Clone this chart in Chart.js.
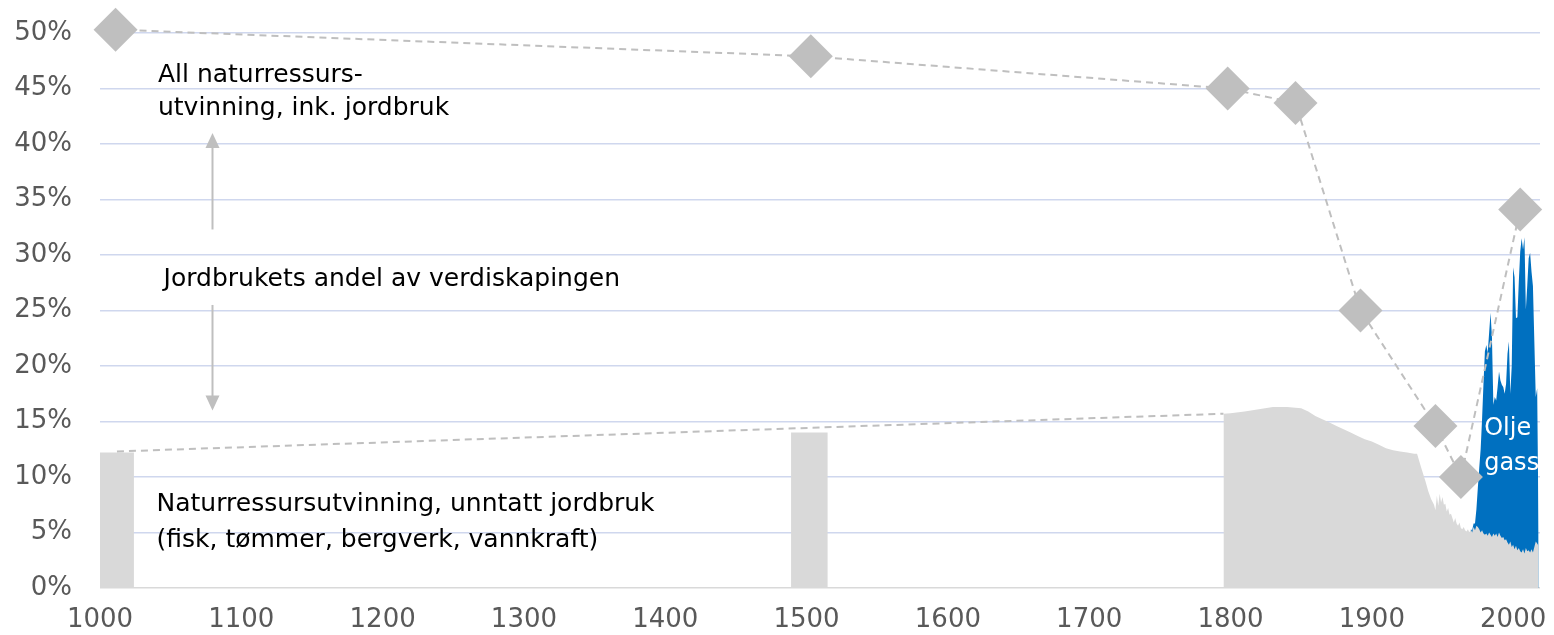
<!DOCTYPE html>
<html>
<head>
<meta charset="utf-8">
<script src="https://cdn.jsdelivr.net/npm/chart.js@4/dist/chart.umd.min.js"></script>
<style>
  html, body { margin: 0; padding: 0; background: #fff; overflow: hidden; }
  #wrap { width: 1554px; height: 635px; }
</style>
</head>
<body>
<div id="wrap"><canvas id="myChart"></canvas></div>
<script>
// grey area: resource extraction excluding agriculture (null = gap)
const grey_years = [1000, 1024, 1100, 1489, 1515, 1600,
  1795, 1800, 1810, 1820, 1830, 1840, 1850, 1855, 1860, 1865, 1870, 1875, 1880, 1885, 1890, 1895,
  1900, 1905, 1910, 1915, 1920, 1925, 1930, 1932, 1935, 1938, 1940, 1942, 1944,
  1945, 1946, 1947, 1948, 1949, 1950, 1951, 1952, 1953, 1954, 1955, 1956, 1957, 1958, 1959,
  1960, 1961, 1962, 1963, 1964, 1965, 1966, 1967, 1968, 1969,
  1970, 1971, 1972, 1973, 1974, 1975, 1976, 1977, 1978, 1979,
  1980, 1981, 1982, 1983, 1984, 1985, 1986, 1987, 1988, 1989,
  1990, 1991, 1992, 1993, 1994, 1995, 1996, 1997, 1998, 1999,
  2000, 2001, 2002, 2003, 2004, 2005, 2006, 2007, 2008, 2009,
  2010, 2011, 2012, 2013, 2014, 2015, 2016, 2017, 2018];
const grey_values = [12.2, 12.2, null, 14.0, 14.0, null,
  15.7, 15.75, 15.9, 16.1, 16.3, 16.3, 16.2, 15.9, 15.5, 15.2, 14.9, 14.6, 14.3, 14.0, 13.7, 13.4,
  13.2, 12.9, 12.6, 12.4, 12.3, 12.2, 12.1, 12.1, 10.8, 9.6, 8.7, 8.0, 7.5,
  7.0, 8.3, 7.4, 8.5, 7.7, 8.2, 7.5, 7.6, 6.9, 7.2, 6.6, 6.7, 6.3, 5.9, 6.3,
  5.8, 5.6, 5.9, 5.4, 5.3, 5.5, 5.2, 5.1, 5.3, 5.0,
  5.3, 5.0, 5.5, 5.2, 5.6, 5.5, 5.3, 5.0, 5.2, 4.9,
  4.8, 4.9, 4.7, 5.0, 4.8, 4.6, 4.9, 4.7, 4.9, 4.6,
  5.0, 4.7, 4.5, 4.6, 4.3, 4.4, 4.1, 3.9, 4.2, 3.7,
  3.9, 3.5, 3.8, 3.4, 3.6, 3.3, 3.2, 3.5, 3.1, 3.6,
  3.3, 3.4, 3.2, 3.5, 3.2, 3.7, 4.2, 4.0, 3.8];

// blue area: oil and gas share (on top of the grey area)
const oil_years = [1970, 1971, 1972, 1973, 1974, 1975, 1976, 1977, 1978, 1979,
  1980, 1981, 1982, 1983, 1984, 1985, 1986, 1987, 1988, 1989,
  1990, 1991, 1992, 1993, 1994, 1995, 1996, 1997, 1998, 1999,
  2000, 2001, 2002, 2003, 2004, 2005, 2006, 2007, 2008, 2009,
  2010, 2011, 2012, 2013, 2014, 2015, 2016, 2017, 2018];
const oil_values = [0, 0.2, 0.3, 0.6, 1.5, 3.5, 5.5, 7.5, 10.0, 13.5,
  16.5, 17.0, 16.5, 18.0, 20.0, 18.0, 11.6, 12.5, 12.0, 13.5,
  14.5, 14.0, 13.8, 13.5, 13.2, 14.0, 17.0, 18.3, 13.3, 16.3,
  25.0, 24.5, 20.5, 21.0, 24.0, 27.0, 28.3, 27.0, 28.5, 21.5,
  24.0, 26.3, 27.0, 25.0, 24.0, 18.5, 13.0, 14.0, 1.0];

// diamonds: all resource extraction incl. agriculture
const total_years = [1011, 1503, 1798, 1846, 1892, 1945, 1963, 2005];
const total_values = [50.3, 47.9, 45.0, 43.7, 25.0, 14.6, 10.0, 34.1];

// dashed bridge over the gap in the grey data
const bridge_years = [1012, 1795];
const bridge_values = [12.3, 15.7];

const x_ticks = [1000, 1100, 1200, 1300, 1400, 1500, 1600, 1700, 1800, 1900, 2000];
const y_ticks = [0, 5, 10, 15, 20, 25, 30, 35, 40, 45, 50];

const FONT = "'DejaVu Sans', sans-serif";

const greyLookup = {};
grey_years.forEach((yr, i) => { greyLookup[yr] = grey_values[i]; });

const greyData = grey_years.map((yr, i) => ({ x: yr, y: grey_values[i] }));
const oilData = oil_years.map((yr, i) => ({ x: yr, y: greyLookup[yr] + oil_values[i] }));
const totalData = total_years.map((yr, i) => ({ x: yr, y: total_values[i] }));
const bridgeData = bridge_years.map((yr, i) => ({ x: yr, y: bridge_values[i] }));

// text labels (baseline) and arrows, placed in data coordinates
const notes = [
  { text: 'All naturressurs-', x: 1041, y: 45.6 },
  { text: 'utvinning, ink. jordbruk', x: 1041, y: 42.6 },
  { text: 'Jordbrukets andel av verdiskapingen', x: 1045, y: 27.2 },
  { text: 'Naturressursutvinning, unntatt jordbruk', x: 1040, y: 6.95 },
  { text: '(fisk, tømmer, bergverk, vannkraft)', x: 1040, y: 3.65 },
  { text: 'Olje', x: 1979.5, y: 13.8, color: '#ffffff', size: 24 },
  { text: 'gass', x: 1979.5, y: 10.6, color: '#ffffff', size: 24 }
];
const arrows = [
  { x: 1079, from: 32.3, to: 41.0 },
  { x: 1079, from: 25.5, to: 16.0 }
];

const notesPlugin = {
  id: 'notes',
  afterDatasetsDraw(chart) {
    const ctx = chart.ctx;
    const xs = chart.scales.x, ys = chart.scales.y;
    ctx.save();
    arrows.forEach(a => {
      const px = Math.round(xs.getPixelForValue(a.x)) + 0.5;
      const p0 = ys.getPixelForValue(a.from);
      const p1 = ys.getPixelForValue(a.to);
      const dir = p1 < p0 ? -1 : 1;
      ctx.strokeStyle = '#bfbfbf';
      ctx.fillStyle = '#bfbfbf';
      ctx.lineWidth = 2;
      ctx.beginPath();
      ctx.moveTo(px, p0);
      ctx.lineTo(px, p1 - dir * 12);
      ctx.stroke();
      ctx.beginPath();
      ctx.moveTo(px, p1);
      ctx.lineTo(px - 7, p1 - dir * 15);
      ctx.lineTo(px + 7, p1 - dir * 15);
      ctx.closePath();
      ctx.fill();
    });
    ctx.textBaseline = 'alphabetic';
    ctx.textAlign = 'left';
    notes.forEach(n => {
      ctx.font = (n.size || 25) + 'px ' + FONT;
      ctx.fillStyle = n.color || '#000000';
      ctx.fillText(n.text, xs.getPixelForValue(n.x), ys.getPixelForValue(n.y));
    });
    ctx.restore();
  }
};

const ctx = document.getElementById('myChart');

new Chart(ctx,
{
    type: 'line',
    data:
    {
        datasets:
        [
            {
                data: totalData,
                borderColor: '#bfbfbf',
                borderWidth: 2,
                borderDash: [7, 5],
                pointStyle: 'rectRot',
                pointRadius: 22,
                pointHoverRadius: 22,
                pointBackgroundColor: '#bfbfbf',
                pointBorderWidth: 0,
                fill: false,
                clip: false
            },
            {
                data: bridgeData,
                borderColor: '#bfbfbf',
                borderWidth: 2,
                borderDash: [7, 5],
                pointRadius: 0,
                fill: false
            },
            {
                data: greyData,
                borderWidth: 0,
                borderColor: 'rgba(0,0,0,0)',
                backgroundColor: '#d9d9d9',
                pointRadius: 0,
                tension: 0,
                spanGaps: false,
                fill: 'origin'
            },
            {
                data: oilData,
                borderWidth: 0,
                borderColor: 'rgba(0,0,0,0)',
                backgroundColor: '#0070c0',
                pointRadius: 0,
                tension: 0,
                fill: 'origin'
            }
        ]
    },
    options:
    {
        responsive: true,
        maintainAspectRatio: false,
        animation: false,
        layout:
        {
            autoPadding: false,
            padding: { top: 33, right: 14, left: 0, bottom: 0 }
        },
        scales:
        {
            x:
            {
                type: 'linear',
                min: 1000,
                max: 2019,
                afterFit: (scale) => {
                    scale.height = 47;
                    scale.paddingLeft = 0;
                    scale.paddingRight = 0;
                },
                afterBuildTicks: (scale) => { scale.ticks = x_ticks.map(v => ({ value: v })); },
                grid: { display: false, drawTicks: false },
                border: { display: false },
                ticks:
                {
                    font: { family: FONT, size: 26, lineHeight: '64px' },
                    color: '#595959',
                    padding: 0,
                    maxRotation: 0,
                    callback: (v) => String(v)
                }
            },
            y:
            {
                min: 0,
                max: 50,
                afterFit: (scale) => {
                    scale.width = 100;
                    scale.paddingTop = 0;
                    scale.paddingBottom = 0;
                },
                afterBuildTicks: (scale) => { scale.ticks = y_ticks.map(v => ({ value: v })); },
                grid:
                {
                    drawTicks: false,
                    lineWidth: 1.5,
                    color: (c) => c.tick && c.tick.value === 0 ? '#d9d9d9' : '#cfd7ee'
                },
                border: { display: false },
                ticks:
                {
                    font: { family: FONT, size: 26 },
                    color: '#595959',
                    padding: 28,
                    callback: (v) => v + '%'
                }
            }
        },
        plugins:
        {
            legend: { display: false },
            tooltip: { enabled: false }
        }
    },
    plugins: [notesPlugin]
});
</script>
</body>
</html>
